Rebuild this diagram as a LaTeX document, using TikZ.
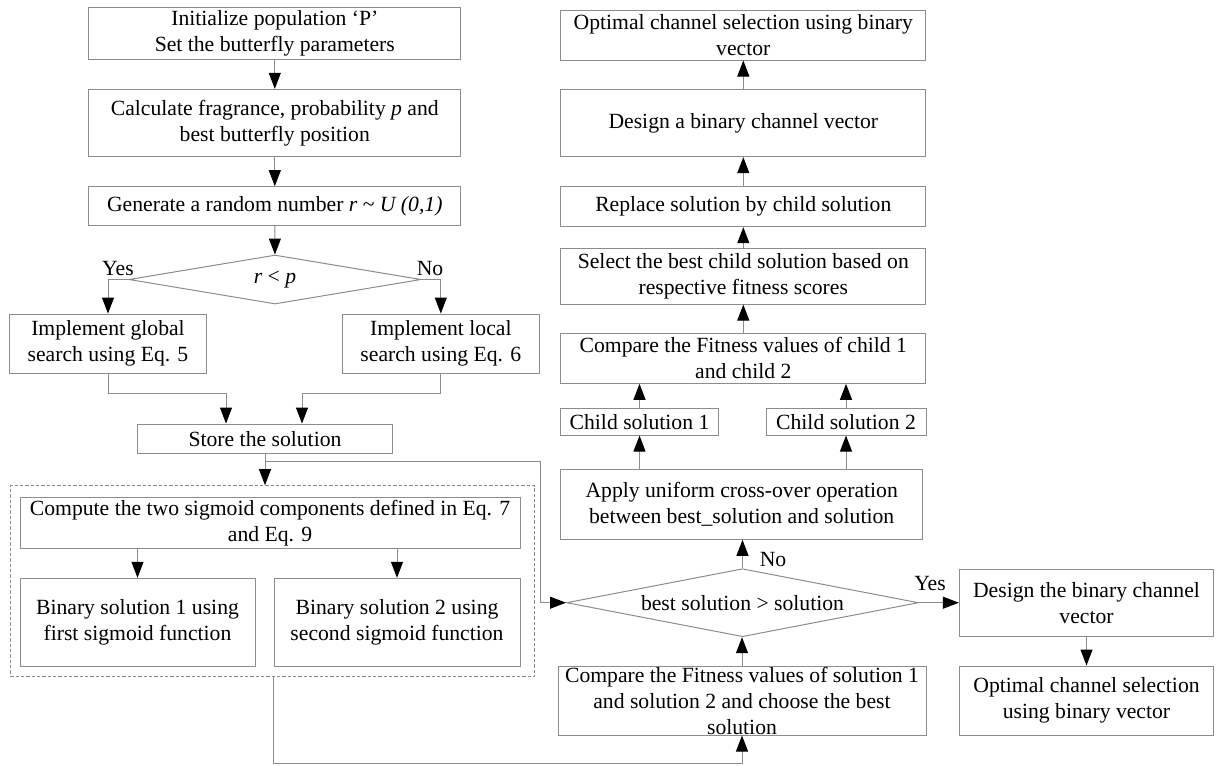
\documentclass[tikz,border=0pt]{standalone}
\usepackage{fontspec}
\setmainfont{Liberation Serif}
\usetikzlibrary{arrows.meta}
\usetikzlibrary{shapes.geometric}
\definecolor{linegray}{RGB}{140,140,140}

\tikzset{
  box/.style={draw=linegray, line width=0.75pt, align=center, inner sep=1pt, font=\fontsize{16.25}{19.5}\selectfont},
  choice/.style={diamond, draw=linegray, line width=0.75pt, aspect=6, inner sep=0pt, font=\fontsize{16.25}{19.5}\selectfont},
  flow/.style={draw=linegray, line width=0.75pt, -{Triangle[length=12pt,width=9pt,color=black]}},
  lbl/.style={inner sep=0.75pt, font=\fontsize{16.25}{19.5}\selectfont}
}

\begin{document}
\begin{tikzpicture}[x=0.75pt,y=0.75pt,yscale=-1,xscale=1]
\useasboundingbox (0,0) rectangle (1216,765);

%Shape: Rectangle [left column]
\node [box, minimum width=279pt, minimum height=39pt] (init) at (274.8,33.3) {Initialize population ‘P’\\Set the butterfly parameters};
\node [box, minimum width=279pt, minimum height=50.5pt] (calc) at (274.8,123) {Calculate fragrance, probability \textit{p} and\\best butterfly position};
\node [box, minimum width=279pt, minimum height=29.25pt] (gen) at (274.8,206.2) {Generate a random number \textit{r} \textasciitilde{} \textit{U (0,1)}};
%Shape: Diamond
\node [choice, minimum width=219pt, minimum height=36.75pt] (dec1) at (275,279.5) {\textit{r} < \textit{p}};
\node [box, minimum width=147.75pt, minimum height=44.5pt] (glob) at (108,343.7) {Implement global\\search using Eq. 5};
\node [box, minimum width=147.3pt, minimum height=44.5pt] (loc) at (440.8,343.7) {Implement local\\search using Eq. 6};
\node [box, minimum width=191.25pt, minimum height=22pt] (store) at (265,438.7) {Store the solution};

%Shape: Rectangle [dashed group]
\node [draw=linegray, line width=0.75pt, dash pattern={on 2.5pt off 1.5pt}, minimum width=393.2pt, minimum height=143.25pt] (grp) at (272.5,581.2) {};
\node [box, minimum width=375pt, minimum height=38.8pt] (comp) at (270,523) {Compute the two sigmoid components defined in Eq. 7\\and Eq. 9};
\node [box, minimum width=176.25pt, minimum height=66.3pt] (bin1) at (137.5,622.5) {Binary solution 1 using\\first sigmoid function};
\node [box, minimum width=184.5pt, minimum height=66.3pt] (bin2) at (397,622.5) {Binary solution 2 using\\second sigmoid function};

%Shape: Rectangle [right column]
\node [box, inner sep=0pt, minimum width=276pt, minimum height=51.75pt] (cmp) at (742,700.5) {Compare the Fitness values of solution 1\\and solution 2 and choose the best\\solution};
\node [choice, minimum width=264pt, minimum height=51pt] (dec2) at (742.5,602.7) {best solution > solution};
\node [box, minimum width=271.5pt, minimum height=52.5pt] (apply) at (741.7,504.3) {Apply uniform cross-over operation\\between best\_solution and solution};
\node [box, minimum width=118.2pt, minimum height=20pt] (child1) at (639.5,421.7) {Child solution 1};
\node [box, minimum width=120pt, minimum height=20pt] (child2) at (846,421.7) {Child solution 2};
\node [box, minimum width=274pt, minimum height=37.5pt] (cmpc) at (743.3,358.3) {Compare the Fitness values of child 1\\and child 2};
\node [box, minimum width=274pt, minimum height=41.8pt] (select) at (743.3,276.2) {Select the best child solution based on\\respective fitness scores};
\node [box, minimum width=274pt, minimum height=30pt] (replace) at (743.3,206.7) {Replace solution by child solution};
\node [box, minimum width=274pt, minimum height=50.5pt] (design1) at (743.3,123) {Design a binary channel vector};
\node [box, minimum width=274pt, minimum height=37.5pt] (opt1) at (743.3,35) {Optimal channel selection using binary\\vector};
\node [box, minimum width=190.7pt, minimum height=50.5pt] (design2) at (1086.5,603) {Design the binary channel\\vector};
\node [box, minimum width=190.7pt, minimum height=51.75pt] (opt2) at (1086.5,700.5) {Optimal channel selection\\using binary vector};

%Straight Lines [left column]
\draw [flow] (init) -- (calc);
\draw [flow] (calc) -- (gen);
\draw [flow] (gen) -- (dec1);
\draw [flow] (dec1.west) -| (glob);
\draw [flow] (dec1.east) -| (loc);
\draw [flow] (glob.south) -- ++(0,19.4) -| ([xshift=-29.25pt]store.north);
\draw [flow] (loc.south) -- ++(0,19.4) -| ([xshift=27.75pt]store.north);
\draw [flow] (store) -- (store.south |- grp.north);
\draw [flow] (comp.south -| bin1) -- (bin1);
\draw [flow] (comp.south -| bin2) -- (bin2);

%Straight Lines [cross links]
\coordinate (split) at (265,461);
\coordinate (bend) at (540,461);
\draw [flow] (split) -- (bend) |- (dec2.west);
\draw [flow] (bin2.west |- grp.south) -- ++(0,86.6) -| (cmp);

%Straight Lines [right column]
\draw [flow] (cmp) -- (cmp.north |- dec2.south);
\draw [flow] (dec2.north) -- (dec2.north |- apply.south);
\draw [flow] (dec2.east) -- (dec2.east -| design2.west);
\draw [flow] (design2) -- (opt2);
\draw [flow] (apply.north -| child1) -- (child1);
\draw [flow] (apply.north -| child2) -- (child2);
\draw [flow] (child1) -- (child1 |- cmpc.south);
\draw [flow] (child2) -- (child2 |- cmpc.south);
\draw [flow] (cmpc) -- (select);
\draw [flow] (select) -- (replace);
\draw [flow] (replace) -- (design1);
\draw [flow] (design1) -- (opt1);

% Text Node
\node [lbl] (yes1) at (118,269) {Yes};
% Text Node
\node [lbl] (no1) at (430,269) {No};
% Text Node
\node [lbl] (no2) at (773,559) {No};
% Text Node
\node [lbl] (yes2) at (930,583) {Yes};

\end{tikzpicture}
\end{document}
